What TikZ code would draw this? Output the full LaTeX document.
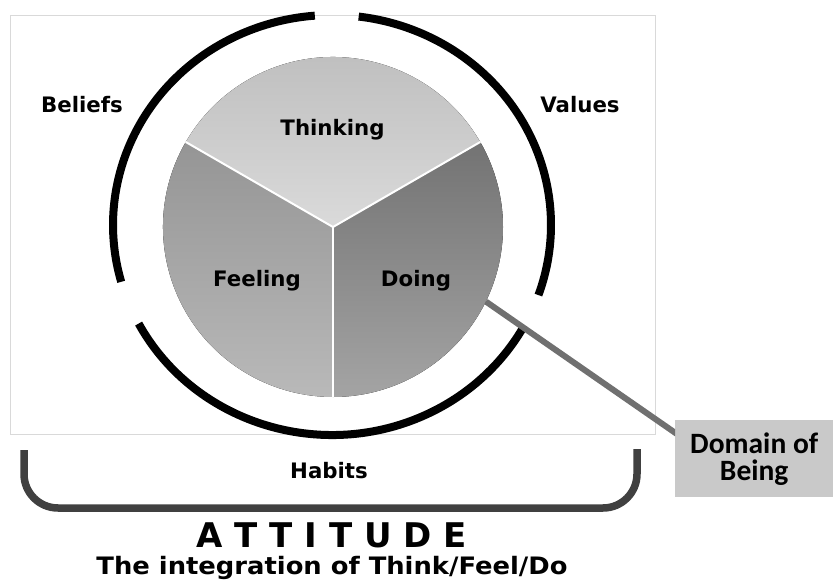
\documentclass[tikz,border=0pt]{standalone}
\usepackage{fontspec}
\usepackage{graphicx}
\setmainfont{DejaVu Sans}
\newfontfamily\carlitofont{Carlito}
\usetikzlibrary{calc}
\definecolor{framec}{HTML}{D9D9D9}
\definecolor{thinkA}{HTML}{BCBCBC}
\definecolor{thinkB}{HTML}{DADADA}
\definecolor{feelA}{HTML}{959595}
\definecolor{feelB}{HTML}{B9B9B9}
\definecolor{doA}{HTML}{737373}
\definecolor{doB}{HTML}{A4A4A4}
\definecolor{connc}{HTML}{707070}
\definecolor{boxc}{HTML}{C9C9C9}
\definecolor{bracketc}{HTML}{404040}
\begin{document}
\begin{tikzpicture}[x=1pt,y=1pt,
  lbl/.style={font=\fontsize{21.3}{25}\selectfont\bfseries, inner sep=0pt, anchor=base},
  ringarc/.style={line width=8pt, black},
  sep/.style={white, line width=2pt},
  conn/.style={connc, line width=6pt},
  dombox/.style={fill=boxc, draw=none, minimum width=158pt, minimum height=77pt, inner sep=0pt, align=center, font={\carlitofont\bfseries\fontsize{29.5}{27}\selectfont}},
  bracket/.style={bracketc, line width=7.5pt, rounded corners=34pt}]
\useasboundingbox (0,0) rectangle (833,-580);
% frame
\draw[framec, line width=1pt] (10,-16) rectangle (655,-434);
% outer ring
\coordinate (R) at (332,-225);
\draw[ringarc] (R) ++(94.5:219pt and 210pt) arc[start angle=94.5, end angle=195.7, x radius=219pt, y radius=210pt];
\draw[ringarc] (R) ++(83:219pt and 210pt) arc[start angle=83, end angle=-19.5, x radius=219pt, y radius=210pt];
\draw[ringarc] (R) ++(208:219pt and 210pt) arc[start angle=208, end angle=331, x radius=219pt, y radius=210pt];
% pie
\coordinate (C) at (333,-227);
\node[circle, minimum size=340pt, inner sep=0pt, draw=none] (pie) at (C) {};
\node[dombox, anchor=north west] (dom) at (675,-420) {Domain of\\Being};
\begin{scope}
  \clip (0,0) rectangle (675,-580);
  \draw[conn] (pie.-26) -- ($(dom.north west)+(12,-21)$);
\end{scope}
\fill[top color=thinkA, bottom color=thinkB] (C) -- ++(30:170pt) arc[start angle=30, end angle=150, radius=170pt] -- cycle;
\fill[top color=feelA, bottom color=feelB] (C) -- ++(150:170pt) arc[start angle=150, end angle=270, radius=170pt] -- cycle;
\fill[top color=doA, bottom color=doB] (C) -- ++(270:170pt) arc[start angle=270, end angle=390, radius=170pt] -- cycle;
\draw[sep] (C) -- (pie.30);
\draw[sep] (C) -- (pie.150);
\draw[sep] (C) -- (pie.270);
% labels
\node[lbl] (beliefs) at (82,-113) {Beliefs};
\node[lbl] (thinking) at (332.5,-136) {Thinking};
\node[lbl] (values) at (580,-113) {Values};
\node[lbl] (feeling) at (257,-287) {Feeling};
\node[lbl] (doing) at (416,-287) {Doing};
\node[lbl] (habits) at (329,-478) {Habits};
% bracket
\draw[bracket] (24,-450) -- (24,-508) -- (637,-508) -- (637,-449);
\node[lbl, font=\fontsize{34}{40}\selectfont\bfseries] (att) at (332,-547) {A T T I T U D E};
\node[lbl, font=\fontsize{24}{28}\selectfont\bfseries] (integ) at (332,-574) {\scalebox{1.075}[1]{The integration of Think/Feel/Do}};
\end{tikzpicture}
\end{document}
